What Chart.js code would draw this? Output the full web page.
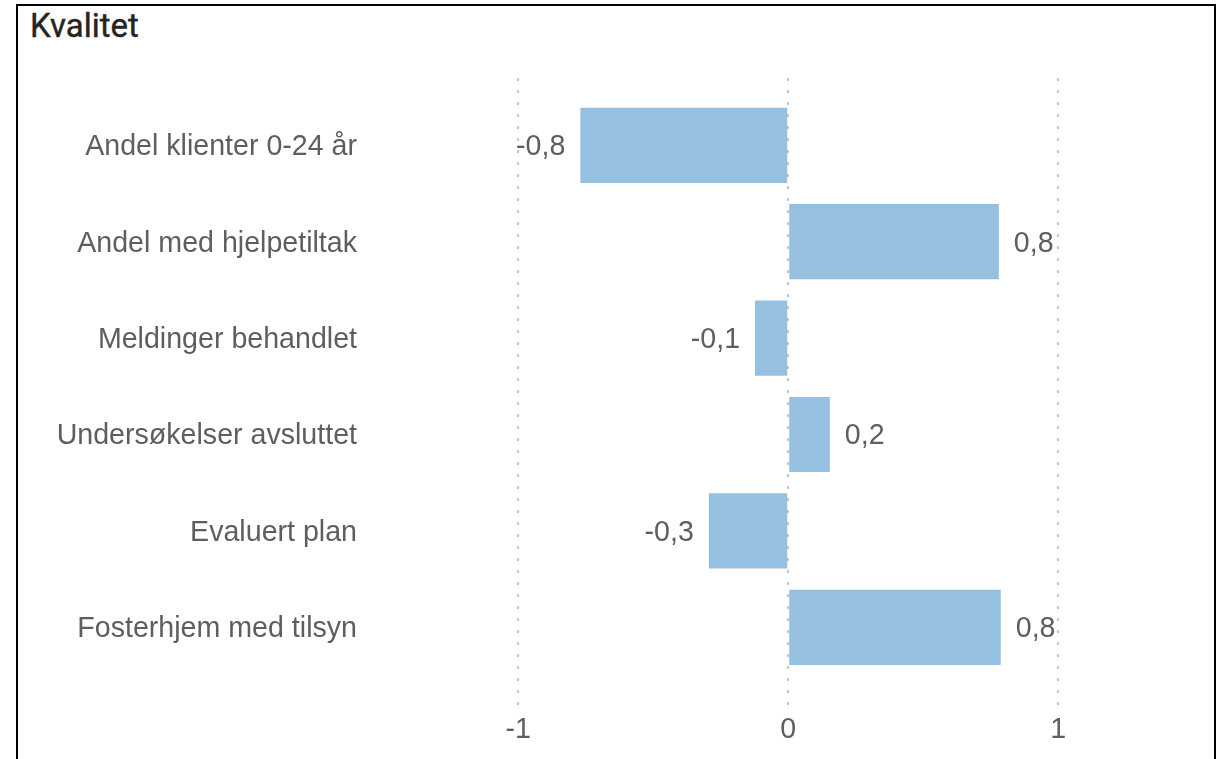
<!DOCTYPE html>
<html>
<head>
<meta charset="utf-8">
<script src="https://cdn.jsdelivr.net/npm/chart.js@4/dist/chart.umd.min.js"></script>
<style>
  body { margin: 0; background: #fff; width: 1226px; height: 759px; overflow: hidden; position: relative; }
  .frame { position: absolute; left: 16px; top: 4px; width: 1196px; height: 800px; border: 2.5px solid #000; border-bottom: none; }
  .title { position: absolute; left: 30px; top: 6px; font: 400 33px Roboto, sans-serif; color: #252423; -webkit-text-stroke: 0.4px #252423; }
  #wrap { position: absolute; left: 0; top: 0; width: 1226px; height: 759px; }
</style>
</head>
<body>
<div class="frame"></div>
<div class="title">Kvalitet</div>
<div id="wrap"><canvas id="chart"></canvas></div>
<script>
const categories = ['Andel klienter 0-24 år', 'Andel med hjelpetiltak', 'Meldinger behandlet', 'Undersøkelser avsluttet', 'Evaluert plan', 'Fosterhjem med tilsyn'];
const values = [-0.77, 0.78, -0.123, 0.154, -0.294, 0.787];
const xTicks = [-1, 0, 1];

const textColor = '#605E5C';
const font = { family: '"Liberation Sans", Arial, sans-serif', size: 28.6 };

// value labels next to the bar ends, like the data labels in the original
const barLabels = {
  id: 'barLabels',
  afterDatasetsDraw(chart) {
    const ctx = chart.ctx;
    const meta = chart.getDatasetMeta(0);
    ctx.save();
    ctx.font = `${font.size}px ${font.family}`;
    ctx.fillStyle = textColor;
    ctx.textBaseline = 'middle';
    meta.data.forEach((bar, i) => {
      const v = values[i];
      const txt = v.toFixed(1).replace('.', ',');
      if (v < 0) { ctx.textAlign = 'right'; ctx.fillText(txt, bar.x - 15, bar.y + 2); }
      else { ctx.textAlign = 'left'; ctx.fillText(txt, bar.x + 15, bar.y + 2); }
    });
    ctx.restore();
  }
};

new Chart(document.getElementById('chart'), {
  type: 'bar',
  data: {
    datasets: [{
      data: values.map((v, i) => ({ x: v, y: i })),
      backgroundColor: '#96C0E0',
      borderWidth: 0,
      categoryPercentage: 1,
      barPercentage: 0.78
    }]
  },
  options: {
    indexAxis: 'y',
    responsive: true,
    maintainAspectRatio: false,
    animation: false,
    layout: { padding: { left: 0, right: 26, top: 78, bottom: 0 } },
    plugins: { legend: { display: false }, tooltip: { enabled: false } },
    scales: {
      x: {
        type: 'linear',
        min: -1.549,
        max: 1.525,
        afterBuildTicks: s => { s.ticks = xTicks.map(v => ({ value: v })); },
        afterFit: s => { s.height = 53; },
        border: { display: false, dash: [3, 9] },
        grid: { color: '#C8C6C4', lineWidth: 2, drawTicks: false },
        ticks: { color: textColor, font, padding: 7 }
      },
      y: {
        type: 'linear',
        reverse: true,
        offset: false,
        min: -0.698,
        max: 5.816,
        afterBuildTicks: s => { s.ticks = categories.map((c, i) => ({ value: i })); },
        afterFit: s => { s.width = 370; },
        border: { display: false },
        grid: { display: false, drawTicks: false, offset: false },
        ticks: { color: textColor, font, padding: 13, labelOffset: 2, autoSkip: false, callback: v => categories[v] ?? '' }
      }
    }
  },
  plugins: [barLabels]
});
</script>
</body>
</html>
